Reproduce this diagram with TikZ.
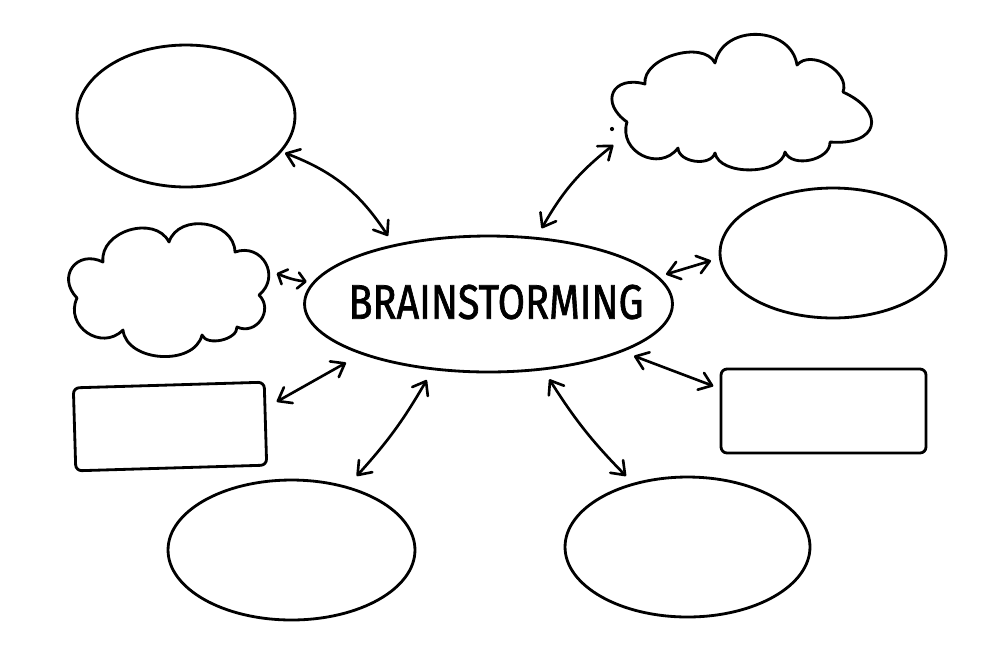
\documentclass[tikz,border=0pt]{standalone}
\usepackage{fontspec}
\newfontfamily\handfont[UprightFeatures={FakeBold=1.6}]{Fira Sans}
\usetikzlibrary{shapes.geometric,arrows.meta,calc}
\begin{document}
\begin{tikzpicture}[x=0.02cm,y=-0.02cm,
  shapeline/.style={draw=black, line width=1.6pt},
  oval/.style={shapeline, ellipse, inner sep=0pt},
  box/.style={shapeline, rectangle, rounded corners=0.12cm, inner sep=0pt},
  ghost/.style={ellipse, inner sep=0pt},
  link/.style={line width=1.5pt, line cap=round,
    {Straight Barb[round,length=2.4mm,width=3.6mm]}-{Straight Barb[round,length=2.4mm,width=3.6mm]}},
  shortlink/.style={line width=1.5pt, line cap=round,
    {Straight Barb[round,length=1.5mm,width=3.2mm]}-{Straight Barb[round,length=1.5mm,width=3.2mm]}},
  puff/.style={bend left=80, looseness=#1}]
\useasboundingbox (0,0) rectangle (1000,667);
\fill[white] (0,0) rectangle (1000,667);

% central idea
\node[oval, minimum width=7.36cm, minimum height=2.72cm] (c) at (488.5,304) {};
\node[inner sep=0pt] (ct) at (496,302) {\resizebox{5.9cm}{0.68cm}{\handfont BRAINSTORMING}};

% ellipses
\node[oval, minimum width=4.36cm, minimum height=2.84cm] (tl) at (186,116) {};
\node[oval, minimum width=4.52cm, minimum height=2.6cm] (r) at (833,253) {};
\node[oval, minimum width=4.94cm, minimum height=2.8cm] (bl) at (291.5,550) {};
\node[oval, minimum width=4.9cm, minimum height=2.8cm] (br) at (687.5,547) {};

% rectangles
\node[box, minimum width=3.82cm, minimum height=1.66cm, rotate=1.7] (lr) at (170,426.5) {};
\node[box, minimum width=4.1cm, minimum height=1.68cm] (rr) at (823.5,411) {};

% clouds
\draw[shapeline, line join=round] (645,84) to[puff=0.93] (715,63) to[puff=1.25] (797,65)
  to[puff=1.03] (843,92) to[puff=2.4] (830,142) to[puff=1.0] (785,152)
  to[puff=0.86] (715,153) to[puff=1.0] (678,148) to[puff=1.38] (627,122)
  to[puff=2.07] (645,84) -- cycle;
\node[ghost, minimum width=5.26cm, minimum height=2.64cm] (crc) at (741.5,101) {};
\node[circle, fill=black, inner sep=0pt, minimum size=2.4pt] (speck) at (612,129) {};

\draw[shapeline, line join=round] (103,262) to[puff=1.15] (169,242) to[puff=1.2] (235,252)
  to[puff=1.5] (259,295) to[puff=1.4] (237,327) to[puff=0.9] (202,335)
  to[puff=1.05] (123,330) to[puff=1.4] (77,298) to[puff=1.7] (103,262) -- cycle;
\node[ghost, minimum width=4.04cm, minimum height=2.64cm] (cl) at (167,290) {};

% connectors
\draw[link] ($(tl)+(99,37)$) to[bend left=18] ($(c)+(-100.5,-68)$);
\draw[link] ($(c)+(53.2,-75.7)$) to[bend left=11] ($(crc)+(-128.2,44)$);
\draw[shortlink] ($(cl)+(109.7,-16.7)$) to[bend right=8] ($(c)+(-181.8,-22.3)$);
\draw[link] ($(c)+(177.5,-29.7)$) to ($(r)+(-122,7.7)$);
\draw[link] ($(lr)+(106.7,-24.8)$) to ($(c)+(-142.5,58.7)$);
\draw[link] ($(bl)+(65.2,-74)$) to[bend right=6] ($(c)+(-61.8,76)$);
\draw[link] ($(c)+(60.8,75.3)$) to[bend right=6] ($(br)+(-61.5,-71)$);
\draw[link] ($(c)+(145.5,52)$) to ($(rr)+(-110.2,-25)$);
\end{tikzpicture}
\end{document}
